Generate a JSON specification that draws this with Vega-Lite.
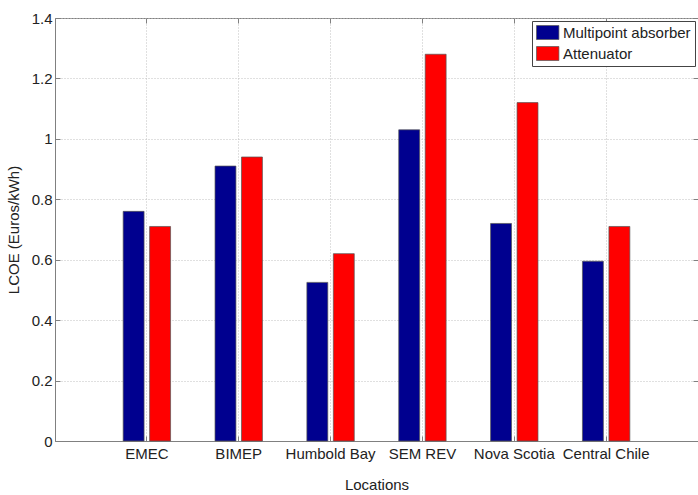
{
  "$schema": "https://vega.github.io/schema/vega-lite/v6.json",
  "width": 643,
  "height": 423,
  "autosize": {"type": "none"},
  "padding": {"left": 55, "top": 18, "right": 0, "bottom": 54},
  "background": "white",
  "config": {
    "font": "Liberation Sans",
    "view": {"stroke": "#808080", "strokeWidth": 1},
    "axis": {
      "labelFont": "Liberation Sans",
      "titleFont": "Liberation Sans",
      "labelFontSize": 15,
      "titleFontSize": 15,
      "titleFontWeight": "normal",
      "labelColor": "#222",
      "titleColor": "#222",
      "domainColor": "#808080",
      "tickColor": "#808080",
      "gridColor": "#c0c0c0",
      "gridDash": [1, 2],
      "gridWidth": 1
    }
  },
  "data": {
    "values": [
      {"location": "EMEC", "series": "Multipoint absorber", "lcoe": 0.76},
      {"location": "EMEC", "series": "Attenuator", "lcoe": 0.71},
      {"location": "BIMEP", "series": "Multipoint absorber", "lcoe": 0.91},
      {"location": "BIMEP", "series": "Attenuator", "lcoe": 0.94},
      {"location": "Humbold Bay", "series": "Multipoint absorber", "lcoe": 0.525},
      {"location": "Humbold Bay", "series": "Attenuator", "lcoe": 0.62},
      {"location": "SEM REV", "series": "Multipoint absorber", "lcoe": 1.03},
      {"location": "SEM REV", "series": "Attenuator", "lcoe": 1.28},
      {"location": "Nova Scotia", "series": "Multipoint absorber", "lcoe": 0.72},
      {"location": "Nova Scotia", "series": "Attenuator", "lcoe": 1.12},
      {"location": "Central Chile", "series": "Multipoint absorber", "lcoe": 0.595},
      {"location": "Central Chile", "series": "Attenuator", "lcoe": 0.71}
    ]
  },
  "layer": [
    {
      "mark": {"type": "bar", "stroke": "#555", "strokeWidth": 0.7},
      "encoding": {
        "x": {
          "field": "location",
          "type": "nominal",
          "sort": ["EMEC", "BIMEP", "Humbold Bay", "SEM REV", "Nova Scotia", "Central Chile"],
          "scale": {"paddingInner": 0, "paddingOuter": 0.5},
          "axis": {
            "title": "Locations",
            "labelAngle": 0,
            "grid": true,
            "bandPosition": 0.5,
            "tickSize": -5,
            "labelPadding": 10,
            "titlePadding": 16
          }
        },
        "xOffset": {
          "field": "series",
          "type": "nominal",
          "sort": ["Multipoint absorber", "Attenuator"],
          "scale": {"paddingInner": 0.21, "paddingOuter": 0.84}
        },
        "y": {
          "field": "lcoe",
          "type": "quantitative",
          "scale": {"domain": [0, 1.4], "nice": false},
          "axis": {
            "title": "LCOE (Euros/kWh)",
            "values": [0, 0.2, 0.4, 0.6, 0.8, 1, 1.2, 1.4],
            "format": "~g",
            "grid": true,
            "tickSize": -5,
            "labelPadding": 8,
            "titlePadding": 10
          }
        },
        "color": {
          "field": "series",
          "type": "nominal",
          "sort": ["Multipoint absorber", "Attenuator"],
          "scale": {"domain": ["Multipoint absorber", "Attenuator"], "range": ["#00008f", "#ff0000"]},
          "legend": {
            "title": null,
            "orient": "none",
            "legendX": 477,
            "legendY": 3,
            "labelFontSize": 15,
            "labelFont": "Liberation Sans",
            "labelColor": "#222",
            "symbolType": "M-1,-1H2.2V1H-1Z",
            "symbolSize": 196,
            "symbolStrokeColor": "#555",
            "symbolStrokeWidth": 0.7,
            "symbolOpacity": 1,
            "rowPadding": 4,
            "labelOffset": 12,
            "padding": 4,
            "strokeColor": "#444",
            "fillColor": "white"
          }
        }
      }
    },
    {
      "mark": {"type": "bar", "opacity": 0},
      "encoding": {
        "x": {
          "field": "location",
          "type": "nominal",
          "sort": ["EMEC", "BIMEP", "Humbold Bay", "SEM REV", "Nova Scotia", "Central Chile"],
          "axis": {"orient": "top", "labels": false, "title": null, "grid": false, "bandPosition": 0.5, "tickSize": -5, "domain": false}
        },
        "y": {
          "field": "lcoe",
          "type": "quantitative",
          "axis": {"orient": "right", "labels": false, "title": null, "grid": false, "values": [0, 0.2, 0.4, 0.6, 0.8, 1, 1.2, 1.4], "tickSize": -5, "domain": false}
        }
      }
    }
  ],
  "resolve": {"axis": {"x": "independent", "y": "independent"}}
}
